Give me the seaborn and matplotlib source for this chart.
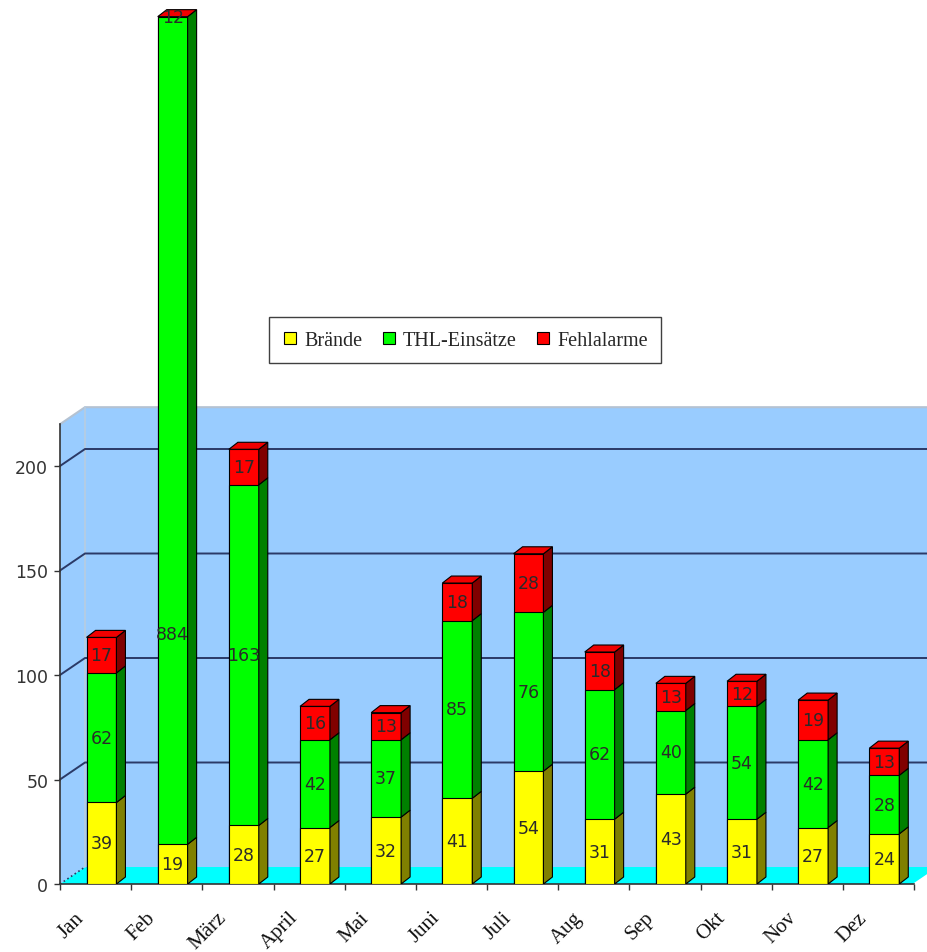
import numpy as np
import matplotlib
matplotlib.use("Agg")
import matplotlib.pyplot as plt
from matplotlib.patches import Polygon
from matplotlib.lines import Line2D
from matplotlib.transforms import ScaledTranslation
import seaborn as sns

# ---- data -------------------------------------------------------------
months = ["Jan", "Feb", "März", "April", "Mai", "Juni", "Juli", "Aug",
          "Sep", "Okt", "Nov", "Dez"]
braende = [39, 19, 28, 27, 32, 41, 54, 31, 43, 31, 27, 24]
thl_einsaetze = [62, 884, 163, 42, 37, 85, 76, 62, 40, 54, 42, 28]
fehlalarme = [17, 12, 17, 16, 13, 18, 28, 18, 13, 12, 19, 13]
series_names = ["Brände", "THL-Einsätze", "Fehlalarme"]
y_ticks = [0, 50, 100, 150, 200]

# ---- styling / geometry ----------------------------------------------
FRONT = ["#FFFF00", "#00FF00", "#FF0000"]
SIDE = ["#808000", "#008000", "#800000"]
WALL = "#99CCFF"
FLOOR = "#00FFFF"
GRID = "#2B3A67"
TEXT = "#333333"

W_PX, H_PX, DPI = 928, 953, 100
AX_L, AX_R, AX_BASE = 60, 914, 885      # plot area in pixels
PX_PER_UNIT = 2.09                      # vertical scale
WALL_TOP = 220                          # height of the back wall
BAR_CLIP = 415                          # highest visible bar value
BAR_W = 0.42
WALL_DEPTH = (25, 17)                   # pixels (right, up)
BAR_DEPTH = (9, 7)

sns.set_style("white")
plt.rcParams["font.family"] = ["DejaVu Sans"]

fig = plt.figure(figsize=(W_PX / DPI, H_PX / DPI), dpi=DPI)
fig.patch.set_facecolor("white")
ax = fig.add_axes([AX_L / W_PX, (H_PX - AX_BASE) / H_PX,
                   (AX_R - AX_L) / W_PX, AX_BASE / H_PX])

b = np.array(braende)
t = np.array(thl_einsaetze)
f = np.array(fehlalarme)
lows = [np.zeros_like(b), b, b + t]
highs = [b, b + t, b + t + f]

# front faces: cumulative totals drawn back-to-front
for k in (2, 1, 0):
    sns.barplot(x=months, y=np.minimum(highs[k], BAR_CLIP), order=months,
                color=FRONT[k], saturation=1, width=BAR_W, errorbar=None,
                edgecolor="black", linewidth=0.8, ax=ax, zorder=3)

x_off = (101.5 - AX_L) / ((AX_R - AX_L) / 12) - 0.5
xl, xr = -0.5 - x_off, 11.5 - x_off
ax.set_xlim(xl, xr)
ax.set_ylim(0, AX_BASE / PX_PER_UNIT)

cx = (xr - xl) / (AX_R - AX_L)          # category units per pixel
cy = 1 / PX_PER_UNIT                    # value units per pixel
wdx, wdy = WALL_DEPTH[0] * cx, WALL_DEPTH[1] * cy
bdx, bdy = BAR_DEPTH[0] * cx, BAR_DEPTH[1] * cy
far = xr + 1.0

# walls and floor
ax.add_patch(Polygon([(xl + wdx, wdy), (far, wdy), (far, WALL_TOP + wdy),
                      (xl + wdx, WALL_TOP + wdy)], fc=WALL, ec="none",
                     clip_on=False, zorder=0.5))
ax.add_patch(Polygon([(xl, 0), (xl + wdx, wdy), (xl + wdx, WALL_TOP + wdy),
                      (xl, WALL_TOP)], fc=WALL, ec="none", clip_on=False,
                     zorder=0.5))
ax.add_patch(Polygon([(xl, 0), (xr, 0), (xr + wdx, wdy), (xl + wdx, wdy)],
                     fc=FLOOR, ec="none", clip_on=False, zorder=0.6))
ax.plot([xl, xl + wdx, far], [WALL_TOP, WALL_TOP + wdy, WALL_TOP + wdy],
        color="#B4C2D2", lw=1.5, clip_on=False, zorder=0.7)
ax.plot([xl + wdx, xl + wdx], [wdy, WALL_TOP + wdy], color="#B8CCE0",
        lw=1.2, clip_on=False, zorder=0.7)
ax.plot([xl, xl + wdx], [0, wdy], color=GRID, lw=1.2, ls=":",
        clip_on=False, zorder=0.8)
ax.plot([xr, xr + wdx], [0, wdy], color="white", lw=1.2,
        clip_on=False, zorder=0.8)
for v in y_ticks[1:]:
    ax.plot([xl, xl + wdx, far], [v, v + wdy, v + wdy], color=GRID,
            lw=1.4, clip_on=False, zorder=0.9)

# side and top faces of the bars, plus value labels
for i in range(len(months)):
    x1 = i + BAR_W / 2
    x0 = i - BAR_W / 2
    for k in range(3):
        lo, hi = lows[k][i], highs[k][i]
        lo_c, hi_c = min(lo, BAR_CLIP), min(hi, BAR_CLIP)
        if hi_c > lo_c:
            ax.add_patch(Polygon([(x1, lo_c), (x1 + bdx, lo_c + bdy),
                                  (x1 + bdx, hi_c + bdy), (x1, hi_c)],
                                 fc=SIDE[k], ec="black", lw=0.8, zorder=3))
        if hi <= WALL_TOP:
            ly = (lo + hi) / 2
        elif lo < WALL_TOP:
            ly = (lo + WALL_TOP) / 2
        else:
            ly = BAR_CLIP
        val = [braende, thl_einsaetze, fehlalarme][k][i]
        ax.text(i, ly, str(val), ha="center", va="center", fontsize=12.5,
                color="#2A2A2A", zorder=5)
    top = min(highs[2][i], BAR_CLIP)
    ax.add_patch(Polygon([(x0, top), (x0 + bdx, top + bdy),
                          (x1 + bdx, top + bdy), (x1, top)],
                         fc="#F00000", ec="black", lw=0.8, zorder=3.5))

# axes
for s in ("top", "right"):
    ax.spines[s].set_visible(False)
for s in ("left", "bottom"):
    ax.spines[s].set_color(TEXT)
    ax.spines[s].set_linewidth(1.2)
    ax.spines[s].set_zorder(2)
ax.spines["left"].set_bounds(0, WALL_TOP)
ax.set_xlabel("")
ax.set_ylabel("")
ax.set_yticks(y_ticks)
ax.set_yticklabels([str(v) for v in y_ticks])
ax.tick_params(axis="y", left=True, length=4.5, width=1, color=TEXT,
               pad=4, labelsize=12.5, labelcolor=TEXT)

ax.set_xticks([xl + k for k in range(13)])
ax.set_xticklabels([])
ax.set_xticks(range(len(months)), minor=True)
ax.set_xticklabels(months, minor=True)
ax.tick_params(axis="x", which="major", bottom=True, length=4.5, width=1,
               color=TEXT)
ax.tick_params(axis="x", which="minor", bottom=True, length=0, pad=22)
shift = ScaledTranslation(-20 / DPI, 0, fig.dpi_scale_trans)
for lbl in ax.get_xticklabels(minor=True):
    lbl.set_rotation(45)
    lbl.set_ha("right")
    lbl.set_va("center")
    lbl.set_rotation_mode("anchor")
    lbl.set_fontfamily("Liberation Serif")
    lbl.set_fontsize(15)
    lbl.set_color("#111111")
    lbl.set_transform(lbl.get_transform() + shift)

# legend
handles = [Line2D([], [], marker="s", ls="none", markersize=8.5,
                  markerfacecolor=c, markeredgecolor="black",
                  markeredgewidth=0.8) for c in FRONT]
leg = fig.legend(handles, series_names, loc="center", ncol=3,
                 bbox_to_anchor=(465 / W_PX, 1 - 341 / H_PX),
                 prop={"family": "Liberation Serif", "size": 14.5},
                 frameon=True, fancybox=False, framealpha=1,
                 edgecolor="#404040", borderpad=0.65, handlelength=0.8,
                 handletextpad=0.3, columnspacing=0.9)
leg.get_frame().set_linewidth(1.0)

fig.savefig("out.png", dpi=DPI)
